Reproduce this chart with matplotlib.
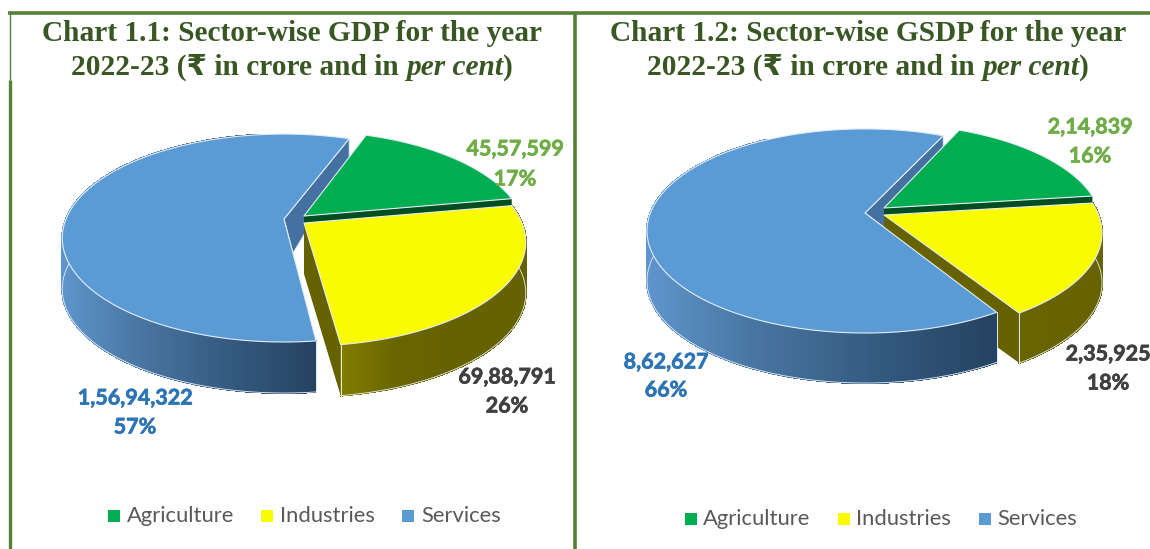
import numpy as np
import matplotlib
matplotlib.use('Agg')
import matplotlib.pyplot as plt
import matplotlib.patheffects as pe
from matplotlib.collections import PolyCollection
from matplotlib.colors import LinearSegmentedColormap

# Data
sectors = ['Agriculture', 'Industries', 'Services']
gdp_values = [4557599, 6988791, 15694322]
gsdp_values = [214839, 235925, 862627]
gdp_labels = ['45,57,599', '69,88,791', '1,56,94,322']
gsdp_labels = ['2,14,839', '2,35,925', '8,62,627']
gdp_pct = ['17%', '26%', '57%']
gsdp_pct = ['16%', '18%', '66%']
gdp_title = 'Chart 1.1: Sector-wise GDP for the year'
gsdp_title = 'Chart 1.2: Sector-wise GSDP for the year'
title_start = '2022-23 (₹ in crore and in '
title_italic = 'per cent'

TOP = {'Agriculture': '#00ad50', 'Industries': '#fbfb00', 'Services': '#5b9bd5'}
LABEL = {'Agriculture': '#70ad47', 'Industries': '#404040', 'Services': '#2e75b6'}
TITLE = '#385723'
BORDER = '#548235'
RIM = '#e4edf5'

wall_blue = LinearSegmentedColormap.from_list('b', ['#5e95cc', '#47749f', '#345a80', '#254362'])
wall_olive = LinearSegmentedColormap.from_list('o', ['#827c00', '#6a6500', '#666200'])
wall_flat = LinearSegmentedColormap.from_list('f', ['#686400', '#666200'])

fig = plt.figure(figsize=(11.5, 5.49), dpi=100)
ax = fig.add_axes([0, 0, 1, 1])
ax.set_xlim(0, 1150)
ax.set_ylim(549, 0)
ax.axis('off')


def project(theta, r, g):
    # angle clockwise from the far side, perspective squeeze towards the back
    u = r * np.sin(theta)
    v = -r * np.cos(theta)
    d = 1 + g['k'] * v
    return g['a'] * u / d, g['b'] * v / d


def outline(a0, a1, g, ox, oy):
    th = np.linspace(a0, a1, 160)
    x, y = project(th, 1, g)
    return x + ox, y + oy


def side_wall(a0, a1, g, ox, oy, cmap, lo, hi, z):
    # rim wall as many small quads so that it can carry a gradient
    x, y = outline(a0, a1, g, ox, oy)
    quads, shades = [], []
    for i in range(len(x) - 1):
        quads.append([(x[i], y[i]), (x[i + 1], y[i + 1]),
                      (x[i + 1], y[i + 1] + g['depth']), (x[i], y[i] + g['depth'])])
        shades.append(np.clip((x[i] - lo) / (hi - lo), 0, 1))
    pc = PolyCollection(quads, facecolors=cmap(np.array(shades)), edgecolors='face',
                        linewidths=0.8, antialiaseds=False, zorder=z)
    ax.add_collection(pc)
    ax.plot(x, y + g['depth'], color=RIM, lw=0.6, zorder=z + 0.1)


def top_face(a0, a1, g, ox, oy, color, z):
    x, y = outline(a0, a1, g, ox, oy)
    ax.fill(np.r_[ox, x], np.r_[oy, y], facecolor=color, edgecolor=RIM, lw=0.8, zorder=z, joinstyle='round')


def draw_pie(values, g):
    shares = np.array(values) / np.sum(values) * 2 * np.pi
    agri0 = g['agri_start']
    agri1 = agri0 + shares[0]
    ind1 = agri1 + shares[1]
    serv1 = g['serv_start']
    serv0 = serv1 - shares[2]
    ax_, ay_ = g['agri_c']
    ix_, iy_ = g['ind_c']
    sx_, sy_ = g['serv_c']
    d = g['depth']

    # cut face of services, mostly hidden by the other two slices
    tx, ty = project(serv1, 1, g)
    nx, ny = project(serv0, 1, g)
    f = g['notch_frac']
    ax.fill([sx_, sx_ + tx, sx_ + tx, sx_ + nx * f],
            [sy_, sy_ + ty, sy_ + ty + g['notch_far'], sy_ + ny * f],
            facecolor='#44719f', edgecolor=RIM, lw=0.6, zorder=1)

    # agriculture: only a dark strip of its wall shows
    ex, ey = project(agri1, 1, g)
    ax.fill([ax_, ax_ + ex, ax_ + ex, ax_], [ay_, ay_ + ey, ay_ + ey + d, ay_ + d],
            facecolor='#004d22', edgecolor='none', zorder=2)
    top_face(agri0, agri1, g, ax_, ay_, TOP['Agriculture'], 3)

    # industries
    ex, ey = project(ind1, 1, g)
    ax.fill([ix_, ix_ + ex, ix_ + ex, ix_], [iy_, iy_ + ey, iy_ + ey + d, iy_ + d],
            facecolor='#666200', edgecolor='none', zorder=4)
    side_wall(agri1, ind1, g, ix_, iy_, g['olive'], ix_ + ex, ix_ + ex + 110, 4.5)
    ax.plot([ix_ + ex, ix_ + ex], [iy_ + ey, iy_ + ey + d], color=RIM, lw=0.7, zorder=4.6)
    top_face(agri1, ind1, g, ix_, iy_, TOP['Industries'], 5)

    # services
    x0 = sx_ - g['a'] * 1.02
    side_wall(serv0, serv0 + np.pi, g, sx_, sy_, wall_blue, x0, sx_ + nx, 6)
    ax.plot([sx_ + nx, sx_ + nx], [sy_ + ny, sy_ + ny + d], color=RIM, lw=0.7, zorder=6.6)
    top_face(serv0, serv1, g, sx_, sy_, TOP['Services'], 7)


def two_line_label(x, y, top, bottom, sector, gap):
    for yy, s in ((y, top), (y + gap, bottom)):
        ax.text(x, yy, s, color=LABEL[sector], fontsize=15.5, fontweight='bold', family='Lato',
                ha='center', va='center', zorder=10,
                path_effects=[pe.withStroke(linewidth=0.5, foreground=LABEL[sector])])


def draw_title(cx, y1, y2, first):
    fs = 21.2
    ax.text(cx, y1, first, color=TITLE, fontsize=fs, fontweight='bold',
            family=['Liberation Serif', 'DejaVu Sans'], ha='center', va='baseline')
    # second line has an italic part, so measure and place the three pieces
    r = fig.canvas.get_renderer()
    pieces = [(title_start, 'normal'), (title_italic, 'italic'), (')', 'normal')]
    arts = [ax.text(0, y2, s, color=TITLE, fontsize=fs, fontweight='bold', fontstyle=st,
                    family=['Liberation Serif', 'DejaVu Sans'], ha='left', va='baseline')
            for s, st in pieces]
    widths = [art.get_window_extent(r).width for art in arts]
    x = cx - sum(widths) / 2
    for art, w in zip(arts, widths):
        art.set_x(x)
        x += w


def draw_legend(x_boxes, x_texts, y):
    for xb, xt, name in zip(x_boxes, x_texts, sectors):
        ax.fill([xb, xb + 12, xb + 12, xb], [y - 6, y - 6, y + 6, y + 6], color=TOP[name], lw=0)
        ax.text(xt, y, name, color='#595959', fontsize=15.8, family='Lato', ha='left', va='center')


# Frame
ax.plot([8, 1150], [13, 13], color=BORDER, lw=2.6, solid_capstyle='butt')
ax.plot([9.5, 9.5], [13, 80], color=BORDER, lw=1.0, solid_capstyle='butt')
ax.plot([9.5, 9.5], [80, 549], color=BORDER, lw=2.4, solid_capstyle='butt')
ax.plot([575, 575], [13, 549], color=BORDER, lw=2.6, solid_capstyle='butt')

# Left chart
g1 = dict(a=218, b=100.5, k=-0.183, depth=51, agri_start=np.radians(19.5), serv_start=np.radians(20.5),
          agri_c=(304, 216), ind_c=(304, 223), serv_c=(284, 219), notch_frac=0.28, notch_far=20,
          olive=wall_olive)
draw_pie(gdp_values, g1)
draw_title(292, 41, 75, gdp_title)
two_line_label(515, 149, gdp_labels[0], gdp_pct[0], 'Agriculture', 30)
two_line_label(507, 377, gdp_labels[1], gdp_pct[1], 'Industries', 29)
two_line_label(135, 398, gdp_labels[2], gdp_pct[2], 'Services', 29)
draw_legend([108, 261, 402], [127, 280, 421], 516)

# Right chart
g2 = dict(a=214.6, b=98.9, k=-0.176, depth=50, agri_start=np.radians(24), serv_start=np.radians(25),
          agri_c=(884, 208), ind_c=(884, 215), serv_c=(865, 213), notch_frac=0.147, notch_far=14,
          olive=wall_flat)
draw_pie(gsdp_values, g2)
draw_title(868, 41, 75, gsdp_title)
two_line_label(1090, 127, gsdp_labels[0], gsdp_pct[0], 'Agriculture', 29)
two_line_label(1108, 354, gsdp_labels[1], gsdp_pct[1], 'Industries', 29)
two_line_label(666, 362, gsdp_labels[2], gsdp_pct[2], 'Services', 28)
draw_legend([685, 838, 979], [703, 856, 997], 519)

fig.savefig('out.png', dpi=100)
